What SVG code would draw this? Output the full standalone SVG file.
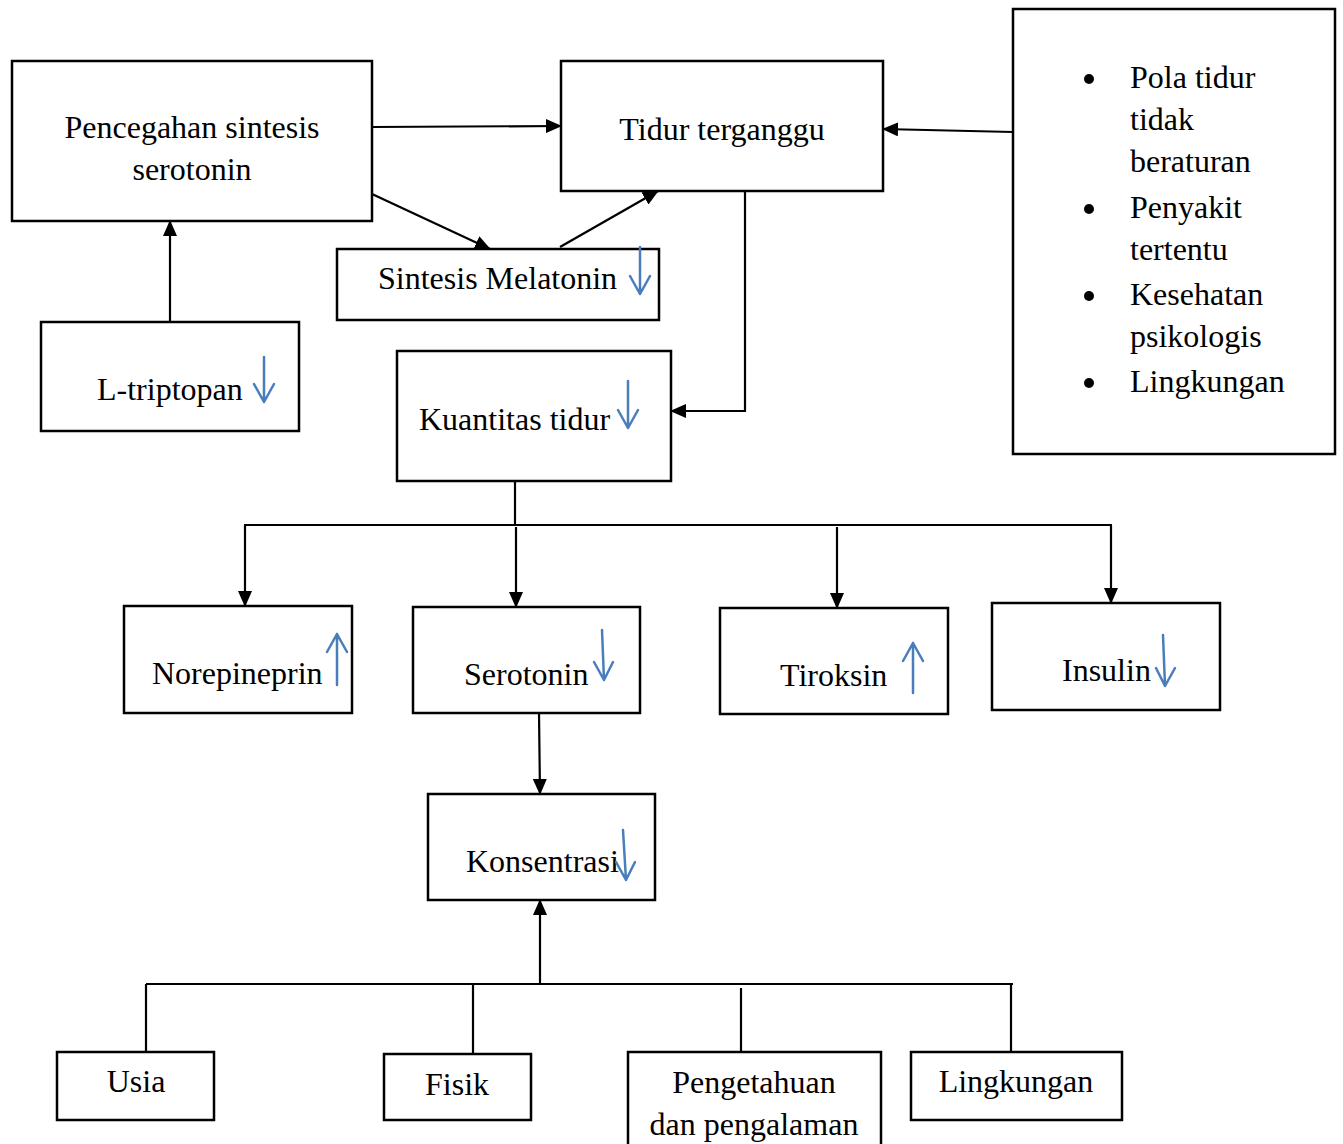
<svg xmlns="http://www.w3.org/2000/svg" width="1343" height="1144" viewBox="0 0 1343 1144">
<defs>
<style>
.box{fill:#fff;stroke:#000;stroke-width:2.5}
.t{font-family:"Liberation Serif","Times New Roman",serif;font-size:32px;fill:#000}
.c{text-anchor:middle}
.ln{fill:none;stroke:#000;stroke-width:2.2}
.bl{fill:none;stroke:#4a7ebb;stroke-width:2.5;stroke-linecap:round;stroke-linejoin:round}
</style>
<marker id="ah" markerWidth="16" markerHeight="14" refX="15" refY="7" orient="auto" markerUnits="userSpaceOnUse">
<path d="M0,0 L16,7 L0,14 Z" fill="#000"/>
</marker>
</defs>
<rect width="1343" height="1144" fill="#fff"/>
<g id="connectors">
<line class="ln" x1="372" y1="127" x2="561" y2="126" marker-end="url(#ah)"/>
<line class="ln" x1="372" y1="194" x2="490" y2="249" marker-end="url(#ah)"/>
<line class="ln" x1="560" y1="247" x2="658" y2="191" marker-end="url(#ah)"/>
<line class="ln" x1="1013" y1="132" x2="883" y2="129" marker-end="url(#ah)"/>
<line class="ln" x1="170" y1="322" x2="170" y2="221" marker-end="url(#ah)"/>
<polyline class="ln" points="745,191 745,411 671,411" marker-end="url(#ah)"/>
<line class="ln" x1="515" y1="481" x2="515" y2="525"/>
<line class="ln" x1="244" y1="525" x2="1112" y2="525"/>
<line class="ln" x1="245" y1="525" x2="245" y2="606" marker-end="url(#ah)"/>
<line class="ln" x1="516" y1="527" x2="516" y2="607" marker-end="url(#ah)"/>
<line class="ln" x1="837" y1="527" x2="837" y2="608" marker-end="url(#ah)"/>
<line class="ln" x1="1111" y1="525" x2="1111" y2="603" marker-end="url(#ah)"/>
<line class="ln" x1="539" y1="713" x2="540" y2="794" marker-end="url(#ah)"/>
<line class="ln" x1="540" y1="984" x2="540" y2="900" marker-end="url(#ah)"/>
<line class="ln" x1="146" y1="984" x2="1013" y2="984"/>
<line class="ln" x1="146" y1="984" x2="146" y2="1052"/>
<line class="ln" x1="473" y1="984" x2="473" y2="1054"/>
<line class="ln" x1="741" y1="988" x2="741" y2="1052"/>
<line class="ln" x1="1011" y1="984" x2="1011" y2="1052"/>
</g>
<g id="pencegahan">
<rect class="box" x="12" y="61" width="360" height="160"/>
<text class="t c" x="192" y="138">Pencegahan sintesis</text>
<text class="t c" x="192" y="180">serotonin</text>
</g>
<g id="tidur">
<rect class="box" x="561" y="61" width="322" height="130"/>
<text class="t c" x="722" y="140">Tidur terganggu</text>
</g>
<g id="faktor">
<rect class="box" x="1013" y="9" width="322" height="445"/>
<circle cx="1089" cy="79" r="5"/>
<circle cx="1089" cy="209" r="5"/>
<circle cx="1089" cy="296" r="5"/>
<circle cx="1089" cy="383" r="5"/>
<text class="t" x="1130" y="88">Pola tidur</text>
<text class="t" x="1130" y="130">tidak</text>
<text class="t" x="1130" y="172">beraturan</text>
<text class="t" x="1130" y="218">Penyakit</text>
<text class="t" x="1130" y="260">tertentu</text>
<text class="t" x="1130" y="305">Kesehatan</text>
<text class="t" x="1130" y="347">psikologis</text>
<text class="t" x="1130" y="392">Lingkungan</text>
</g>
<g id="melatonin">
<rect class="box" x="337" y="249" width="322" height="71"/>
<text class="t" x="378" y="289">Sintesis Melatonin</text>
<path class="bl" d="M640,247 V294 M630,276 L640,294 L650,276"/>
</g>
<g id="triptopan">
<rect class="box" x="41" y="322" width="258" height="109"/>
<text class="t" x="97" y="400">L-triptopan</text>
<path class="bl" d="M264,357 V402 M254,384 L264,402 L274,384"/>
</g>
<g id="kuantitas">
<rect class="box" x="397" y="351" width="274" height="130"/>
<text class="t" x="419" y="430">Kuantitas tidur</text>
<path class="bl" d="M628,381 V428 M618,410 L628,428 L638,410"/>
</g>
<g id="norepineprin">
<rect class="box" x="124" y="606" width="228" height="107"/>
<text class="t" x="152" y="684">Norepineprin</text>
<path class="bl" d="M337,685 V634 M327,652 L337,634 L347,652"/>
</g>
<g id="serotonin">
<rect class="box" x="413" y="607" width="227" height="106"/>
<text class="t" x="464" y="685">Serotonin</text>
<path class="bl" d="M602,630 L604,680 M594,662 L604,680 L613,662"/>
</g>
<g id="tiroksin">
<rect class="box" x="720" y="608" width="228" height="106"/>
<text class="t" x="780" y="686">Tiroksin</text>
<path class="bl" d="M913,693 V643 M903,661 L913,643 L923,661"/>
</g>
<g id="insulin">
<rect class="box" x="992" y="603" width="228" height="107"/>
<text class="t" x="1062" y="681">Insulin</text>
<path class="bl" d="M1163,635 L1165,686 M1156,668 L1165,686 L1175,668"/>
</g>
<g id="konsentrasi">
<rect class="box" x="428" y="794" width="227" height="106"/>
<text class="t" x="466" y="872">Konsentrasi</text>
<path class="bl" d="M623,830 L626,880 M616,862 L626,880 L635,862"/>
</g>
<g id="usia">
<rect class="box" x="57" y="1052" width="157" height="68"/>
<text class="t c" x="136" y="1092">Usia</text>
</g>
<g id="fisik">
<rect class="box" x="384" y="1054" width="147" height="66"/>
<text class="t c" x="457" y="1095">Fisik</text>
</g>
<g id="pengetahuan">
<rect class="box" x="628" y="1052" width="253" height="100"/>
<text class="t c" x="754" y="1093">Pengetahuan</text>
<text class="t c" x="754" y="1135">dan pengalaman</text>
</g>
<g id="lingkungan">
<rect class="box" x="911" y="1052" width="211" height="68"/>
<text class="t c" x="1016" y="1092">Lingkungan</text>
</g>
</svg>
